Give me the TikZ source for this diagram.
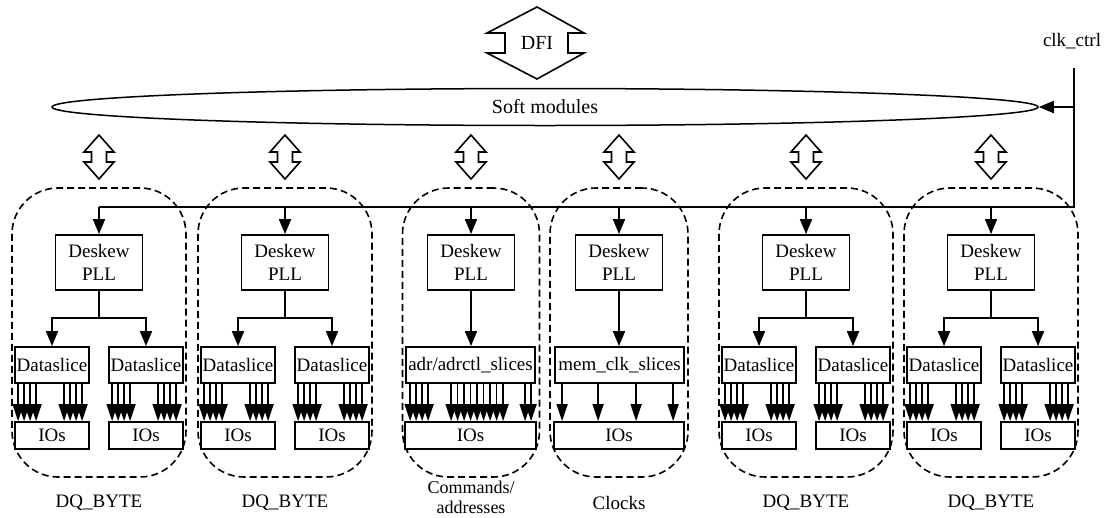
\documentclass[tikz,border=0pt]{standalone}
\usepackage{fontspec}
\setmainfont{Liberation Serif}
\usetikzlibrary{arrows.meta,shapes.geometric}
\tikzset{
  txt/.style={font=\fontsize{19}{23}\selectfont},
  box/.style={draw, line width=1.8pt, inner sep=0pt, align=center, txt, fill=white},
  deskew/.style={box, minimum width=87pt, minimum height=55pt},
  slicebox/.style={box, minimum height=36pt},
  iobox/.style={box, minimum height=27pt},
  modbox/.style={draw, dashed, dash pattern=on 7pt off 4pt, line width=1.6pt, rounded corners=46pt, minimum height=289pt, inner sep=0pt},
  conn/.style={line width=1.8pt},
  arr/.style={conn, -{Triangle[width=12pt,length=15pt]}},
  sarr/.style={line width=1.4pt, -{Triangle[width=11pt,length=17pt]}},
  lab/.style={txt, align=center, inner sep=0pt},
  dbl/.pic={\draw[line width=1.6pt, line join=miter] (0,0) -- (15,17) -- (7.5,17) -- (7.5,27) -- (15,27) -- (0,44) -- (-15,27) -- (-7.5,27) -- (-7.5,17) -- (-15,17) -- cycle;}
}
\newcommand\dqmod[2]{%
  \node[modbox, minimum width=174pt] (m#1) at (#2,332.5) {};
  \node[deskew] (d#1) at (#2,262.5) {Deskew\\PLL};
  \node[slicebox, minimum width=74pt] (sa#1) at (#2-47,365) {Dataslice};
  \node[slicebox, minimum width=74pt] (sb#1) at (#2+47,365) {Dataslice};
  \node[iobox, minimum width=74pt] (ia#1) at (#2-47,435.5) {IOs};
  \node[iobox, minimum width=74pt] (ib#1) at (#2+47,435.5) {IOs};
  \draw[arr] (d#1.north |- bL) -- (d#1.north);
  \draw[arr] (d#1.south) -- ++(0,27) -| (sa#1.north);
  \draw[arr] (d#1.south) -- ++(0,27) -| (sb#1.north);
  \foreach \dx in {4,10,16,22,50,56,62,68}{
    \draw[sarr] ([xshift=\dx pt]sa#1.south west) -- ([xshift=\dx pt]ia#1.north west);
    \draw[sarr] ([xshift=\dx pt]sb#1.south west) -- ([xshift=\dx pt]ib#1.north west);
  }
  \pic at (#2,135) {dbl};
  \node[lab] (l#1) at (#2,503) {DQ\_BYTE};
}
\begin{document}
\begin{tikzpicture}[x=1pt,y=-1pt]
\path[fill=white, use as bounding box] (0,0) rectangle (1107,517);

% DFI
\draw[line width=1.6pt, line join=miter] (537,7) -- (584,33) -- (568,33) -- (568,53) -- (584,53) -- (537,79) -- (487,53) -- (505,53) -- (505,33) -- (487,33) -- cycle;
\node[txt, inner sep=0pt, font=\fontsize{20}{24}\selectfont] (dfi) at (537,43) {DFI};

% soft modules
\node[draw, ellipse, line width=1.5pt, minimum width=986pt, minimum height=37pt, inner sep=0pt, font=\fontsize{20}{24}\selectfont] (soft) at (545,107) {Soft modules};

% clk_ctrl
\node[txt, inner sep=0pt] (clk) at (1072,41) {clk\_ctrl};
\coordinate (ctop) at (1074,68);
\coordinate (bR) at (1074,207);
\coordinate (bL) at (99,207);
\draw[conn] (ctop) -- (bR) -- (bL);
\draw[arr] (ctop |- soft.east) -- (soft.east);

% DQ modules
\dqmod{1}{99}
\dqmod{2}{285}
\dqmod{5}{806}
\dqmod{6}{991}

% Commands/addresses module
\node[modbox, minimum width=137pt] (m3) at (471,332.5) {};
\node[deskew] (d3) at (471,262.5) {Deskew\\PLL};
\node[slicebox, minimum width=129pt] (s3) at (470.5,365) {adr/adrctl\_slices};
\node[iobox, minimum width=131pt] (i3) at (470.5,435.5) {IOs};
\draw[arr] (d3.north |- bL) -- (d3.north);
\draw[arr] (d3.south) -- (d3.south |- s3.north);
\foreach \dx in {5,11,17,23,46,52.5,59,65.5,72,78.5,85,91.5,98,120,126}{
  \draw[sarr] ([xshift=\dx pt]s3.south west) -- ([xshift=\dx pt]s3.south west |- i3.north);
}
\pic at (471,135) {dbl};
\node[lab, font=\fontsize{18}{20}\selectfont] (l3) at (471,497) {Commands/\\addresses};

% Clocks module
\node[modbox, minimum width=138pt] (m4) at (619,332.5) {};
\node[deskew] (d4) at (619,262.5) {Deskew\\PLL};
\node[slicebox, minimum width=129pt] (s4) at (619.5,365) {mem\_clk\_slices};
\node[iobox, minimum width=130pt] (i4) at (619,435.5) {IOs};
\draw[arr] (d4.north |- bL) -- (d4.north);
\draw[arr] (d4.south) -- (d4.south |- s4.north);
\foreach \dx in {8,44,82,119}{
  \draw[sarr] ([xshift=\dx pt]s4.south west) -- ([xshift=\dx pt]s4.south west |- i4.north);
}
\pic at (619,135) {dbl};
\node[lab] (l4) at (619,503) {Clocks};
\end{tikzpicture}
\end{document}
